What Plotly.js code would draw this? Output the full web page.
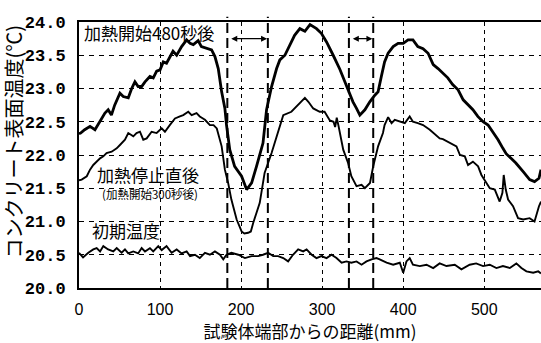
<!DOCTYPE html>
<html>
<head>
<meta charset="utf-8">
<script src="https://cdn.plot.ly/plotly-3.0.1.min.js"></script>
<style>html,body{margin:0;padding:0;background:#fff;}#chart{width:541px;height:343px;}</style>
</head>
<body>
<div id="chart"></div>
<script>
// ---- data (distance mm, surface temperature °C) ----
const dist480 = [0,2,7,13.6,19.7,26,32,36,40,44,50.5,54.6,60.8,65,69,73,77.3,81.4,87.5,91.6,95.8,100,104,108,112,116,120.5,126.6,132.8,137,141,147,151,157.5,163.6,167.7,171.8,176,180,182,186,192,200.6,206.8,213,219,227,231.4,237.6,243.8,247.8,254,260,266,272.5,278.7,285,293,299,305.4,313.6,321.8,330,338,342.4,346.5,352.7,358.8,365,369,373,377,381.4,387.6,393.7,400,406,412,418,424.5,430.7,437,443,449,455,461,467.7,474,480,486,492,498.5,504.7,510.8,517,523,527,533,539,548,556,562,567.5,570];
const temp480 = [22.32,22.33,22.38,22.43,22.38,22.5,22.63,22.68,22.6,22.75,22.93,22.88,22.86,23.0,23.1,23.03,23.03,23.1,23.18,23.16,23.26,23.28,23.4,23.38,23.48,23.56,23.5,23.63,23.73,23.68,23.66,23.72,23.63,23.6,23.58,23.48,23.3,22.95,22.7,22.45,22.08,21.83,21.68,21.48,21.58,21.83,22.18,22.68,23.03,23.3,23.43,23.5,23.66,23.8,23.9,23.86,23.96,23.9,23.83,23.7,23.5,23.29,23.04,22.8,22.7,22.6,22.68,22.8,22.9,22.95,23.18,23.4,23.53,23.63,23.68,23.68,23.73,23.73,23.63,23.6,23.53,23.36,23.3,23.23,23.16,23.06,22.98,22.83,22.76,22.68,22.58,22.5,22.45,22.35,22.23,22.1,22.02,21.95,21.88,21.75,21.63,21.6,21.65,21.78];

const dist300 = [0,3.3,9.6,13.6,17.6,21.8,26,30,34,40.3,46.5,50.5,56.7,60.8,67,71,75.2,79.3,83.5,89.6,95.8,102,106,112,118.4,124.5,128.6,134.8,139,145,149,155.4,161.5,166,170,176,180,184,188,194.5,200.6,204,208.7,212,215,223,229,237.6,247.8,252,262,272.5,278.7,283,289,297,303,309.5,314,316,318,320,321.8,326,332,336,342.4,348.6,352.7,356,359,363,369,375,377,381.4,385.6,389.6,395.8,402,408,412,418,424.5,432.8,441,445,449,457.5,465.7,470,476,480,486,492.4,496.5,502.7,506.8,513,519,522.4,524,526.5,529.4,535.5,541.7,548,556,562,564.3,567.5,570];
const temp300 = [21.62,21.63,21.68,21.78,21.85,21.9,21.95,21.98,22.03,22.05,22.1,22.15,22.23,22.33,22.28,22.33,22.35,22.23,22.25,22.35,22.33,22.4,22.35,22.45,22.55,22.58,22.6,22.65,22.6,22.63,22.58,22.53,22.45,22.45,22.4,22.13,21.78,21.58,21.33,21.03,20.85,20.82,20.83,20.85,20.98,21.28,21.73,22.03,22.43,22.6,22.65,22.78,22.86,22.8,22.7,22.65,22.65,22.52,22.5,22.42,22.56,22.45,22.33,22.08,21.88,21.68,21.53,21.55,21.5,21.55,21.58,21.83,22.13,22.33,22.45,22.57,22.48,22.53,22.5,22.48,22.58,22.5,22.48,22.45,22.38,22.3,22.25,22.24,22.18,22.13,22.0,21.98,21.85,21.9,21.83,21.7,21.58,21.5,21.48,21.3,21.43,21.7,21.48,21.33,21.23,21.05,21.03,21.05,21.0,21.1,21.23,21.3];

const distInit = [0,5,11.5,17.6,21.8,26,30,36,42.3,46.5,52.6,56.7,60.8,67,73,77.3,81.4,87.5,91.6,97.8,102,108,114.3,120.5,126.6,132.8,137,143,149,155.4,161.5,167.7,173.9,178,182,188,196.5,204.7,213,221,227,233.4,239.6,245.7,252,258,264,270.4,276.6,280.8,287,293,299,305.4,311.6,317.7,324,330,336,342.4,348.6,354.7,361,367,371,379.5,387.6,395.8,400,404,408,412,420.5,428.7,437,445,453.4,463.6,471.8,482,490,498.5,506.8,515,523,531.5,539.6,545.8,552,560.4,566.6,570];
const tempInit = [20.53,20.46,20.53,20.58,20.6,20.55,20.63,20.58,20.55,20.6,20.53,20.58,20.52,20.55,20.52,20.6,20.55,20.6,20.55,20.63,20.57,20.63,20.53,20.58,20.52,20.55,20.48,20.5,20.45,20.53,20.5,20.55,20.5,20.43,20.5,20.53,20.5,20.45,20.48,20.48,20.5,20.53,20.48,20.48,20.45,20.4,20.5,20.58,20.55,20.58,20.5,20.45,20.48,20.45,20.5,20.45,20.38,20.4,20.38,20.4,20.35,20.4,20.43,20.45,20.43,20.38,20.35,20.38,20.23,20.4,20.45,20.35,20.33,20.35,20.3,20.37,20.33,20.35,20.28,20.35,20.37,20.33,20.35,20.3,20.33,20.3,20.37,20.3,20.25,20.23,20.25,20.22];

const void5Edges = [183, 233];
const void3Edges = [333, 363];
const xTickVals = [0,100,200,300,400,500];
const yTickVals = [20.0,20.5,21.0,21.5,22.0,22.5,23.0,23.5,24.0];
const yTickText = yTickVals.map(v => v.toFixed(1));

const labels = {
  s480: '加熱開始480秒後',
  s300: '加熱停止直後',
  s300sub: '(加熱開始300秒後)',
  init: '初期温度',
  void5: '空洞5×5cm位置',
  void3: '空洞3×3cm位置',
  xTitle: '試験体端部からの距離(mm)',
  yTitle: 'コンクリート表面温度(℃)'
};

const JP = '"Noto Sans CJK JP", "Noto Sans", sans-serif';

const traces = [
  {x: dist480, y: temp480, mode: 'lines', line: {color: '#000', width: 2.8}, name: labels.s480},
  {x: dist300, y: temp300, mode: 'lines', line: {color: '#000', width: 1.9}, name: labels.s300},
  {x: distInit, y: tempInit, mode: 'lines', line: {color: '#000', width: 1.9}, name: labels.init}
];

const edgeShapes = void5Edges.concat(void3Edges).map(v => ({
  type: 'line', xref: 'x', yref: 'paper', x0: v, x1: v, y0: 0, y1: 1.02,
  line: {color: '#000', width: 2, dash: '10px,5px'}
}));

const arrowY = 23.75;
function dblArrow(e) {
  return {xref: 'x', yref: 'y', axref: 'x', ayref: 'y', x: e[1] - 1, y: arrowY, ax: e[0] + 3, ay: arrowY,
    text: '', showarrow: true, arrowside: 'end+start', arrowhead: 2, arrowsize: 1, arrowwidth: 1.2,
    arrowcolor: '#000', standoff: 0, startstandoff: 0};
}

const annotations = [
  {xref: 'x', yref: 'y', x: 3.5, y: 23.84, xanchor: 'left', yanchor: 'middle', text: labels.s480, showarrow: false, font: {family: JP, size: 17, color: '#000'}},
  {xref: 'x', yref: 'y', x: 20, y: 21.71, xanchor: 'left', yanchor: 'middle', text: labels.s300, showarrow: false, font: {family: JP, size: 17, color: '#000'}},
  {xref: 'x', yref: 'y', x: 26, y: 21.42, xanchor: 'left', yanchor: 'middle', text: labels.s300sub, showarrow: false, font: {family: JP, size: 11.5, color: '#000'}},
  {xref: 'x', yref: 'y', x: 13, y: 20.87, xanchor: 'left', yanchor: 'middle', text: labels.init, showarrow: false, font: {family: JP, size: 17, color: '#000'}},
  {xref: 'x', yref: 'y', x: 206, y: 24.18, xanchor: 'center', yanchor: 'middle', text: labels.void5, showarrow: false, font: {family: JP, size: 17, color: '#000'}},
  {xref: 'x', yref: 'y', x: 397, y: 24.18, xanchor: 'center', yanchor: 'middle', text: labels.void3, showarrow: false, font: {family: JP, size: 17, color: '#000'}},
  {xref: 'paper', yref: 'paper', x: -0.141, y: 0.55, xanchor: 'center', yanchor: 'middle', textangle: -90, text: labels.yTitle, showarrow: false, font: {family: JP, size: 20, color: '#000'}},
  dblArrow(void5Edges),
  dblArrow(void3Edges)
];

const layout = {
  width: 541, height: 343,
  margin: {l: 79, r: 0, t: 22, b: 55, pad: 0},
  paper_bgcolor: '#fff', plot_bgcolor: '#fff',
  showlegend: false,
  xaxis: {
    range: [0, 570], tickmode: 'array', tickvals: xTickVals,
    showgrid: true, gridcolor: '#000', gridwidth: 1, griddash: '4px,4px',
    showline: true, linecolor: '#000', linewidth: 2, mirror: true, zeroline: false,
    ticks: '', ticklabelstandoff: 6,
    tickfont: {family: '"Liberation Sans", Arial, sans-serif', size: 16, color: '#000'},
    title: {text: labels.xTitle, font: {family: JP, size: 17, color: '#000'}, standoff: 4}
  },
  yaxis: {
    range: [20, 24], tickmode: 'array', tickvals: yTickVals, ticktext: yTickText,
    showgrid: true, gridcolor: '#000', gridwidth: 1, griddash: '5px,5px',
    showline: true, linecolor: '#000', linewidth: 2, mirror: true, zeroline: false,
    ticks: '', ticklabelstandoff: 8,
    tickfont: {family: '"Liberation Mono", "Courier New", monospace', size: 17, color: '#000', weight: 'bold'}
  },
  shapes: edgeShapes,
  annotations: annotations
};

Plotly.newPlot('chart', traces, layout, {staticPlot: true, displayModeBar: false});
</script>
</body>
</html>
